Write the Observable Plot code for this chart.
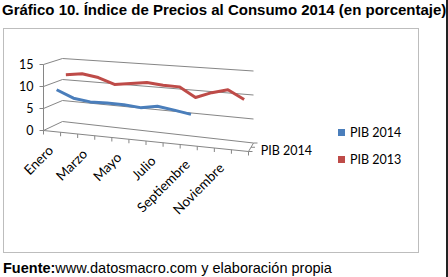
<!DOCTYPE html>
<html><head><meta charset="utf-8">
<script src="https://cdn.jsdelivr.net/npm/d3@7"></script>
<script src="https://cdn.jsdelivr.net/npm/@observablehq/plot@0.6"></script>
<style>
html,body{margin:0;padding:0;background:#fff}
body{width:448px;height:277px;overflow:hidden;position:relative;font-family:"Liberation Sans",Arial,sans-serif}
#title{position:absolute;left:2px;top:1px;font-weight:bold;font-size:15px;white-space:nowrap;color:#000}
#box{position:absolute;left:3px;top:28px;width:414px;height:223px;border:1px solid #bdbdbd}
#chart{position:absolute;left:0;top:28px}
#legend{position:absolute;left:338px;top:119px;font-family:Lato,sans-serif;font-size:12.5px;color:#000}
#legend div{height:27px;display:flex;align-items:center}
#legend span.sw{display:inline-block;width:7px;height:7px;margin-right:5px}
#note{position:absolute;left:3px;top:260px;font-size:14.5px;white-space:nowrap;color:#000}
#edge{position:absolute;left:446px;top:0;width:1.5px;height:277px;background:#222}
</style></head><body>
<div id="title">Gráfico 10. Índice de Precios al Consumo 2014 (en porcentaje)</div>
<div id="box"></div>
<div id="chart"></div>
<div id="legend"></div>
<div id="note"><b>Fuente:</b>www.datosmacro.com y elaboración propia</div>
<div id="edge"></div>
<script>
// Monthly consumer price index, percent
const months = ["Enero","Febrero","Marzo","Abril","Mayo","Junio","Julio","Agosto","Septiembre","Octubre","Noviembre","Diciembre"];
const pib2014 = [9.0, 7.4, 6.9, 7.0, 6.9, 6.6, 7.2, 6.7, 6.1];
const pib2013 = [11.7, 12.2, 11.6, 10.3, 10.8, 11.3, 11.0, 10.9, 8.9, 10.2, 11.1, 9.3];
const seriesNames = ["PIB 2014", "PIB 2013"];
const seriesColors = ["#4A7EBB", "#BE4B48"];
const yTicks = [0, 5, 10, 15];

// 3-D box of the plot: front and back planes (bottom-left, bottom-right corners, px per unit at left/right)
const front = {bl: [43, 102], br: [248, 123], u: [4.4, 4.9]};
const back  = {bl: [62, 93],  br: [253, 114.5], u: [4.2, 4.8]};
const depthOf = {"PIB 2014": 0.25, "PIB 2013": 0.75};

const lerp = (a, b, s) => a + (b - a) * s;
function proj(t, v, d) {
  const xF = lerp(front.bl[0], front.br[0], t), xB = lerp(back.bl[0], back.br[0], t);
  const yF = lerp(front.bl[1], front.br[1], t) - v * lerp(front.u[0], front.u[1], t);
  const yB = lerp(back.bl[1], back.br[1], t) - v * lerp(back.u[0], back.u[1], t);
  return [lerp(xF, xB, d), lerp(yF, yB, d)];
}
const n = months.length;
const tc = i => (i + 0.5) / n;

const rows = [];
[pib2014, pib2013].forEach((vals, s) => {
  vals.forEach((v, i) => {
    const [x, y] = proj(tc(i), v, depthOf[seriesNames[s]]);
    rows.push({serie: seriesNames[s], month: months[i], value: v, x, y});
  });
});

const grid = "#868686";
const boundaries = d3.range(n + 1);
const depthTicks = [0, 0.5, 1];

const chart = Plot.plot({
  width: 448, height: 225,
  margin: 0,
  style: {fontFamily: "Lato, sans-serif", fontSize: "12.5px", background: "transparent", overflow: "visible"},
  x: {type: "linear", domain: [0, 448], range: [0, 448], axis: null},
  y: {type: "linear", domain: [0, 225], range: [0, 225], axis: null},
  color: {domain: seriesNames, range: seriesColors},
  marks: [
    // back wall gridlines
    Plot.link(yTicks, {x1: v => proj(0, v, 1)[0], y1: v => proj(0, v, 1)[1], x2: v => proj(1, v, 1)[0], y2: v => proj(1, v, 1)[1], stroke: grid, strokeWidth: 1}),
    // side wall gridlines
    Plot.link(yTicks, {x1: v => proj(0, v, 0)[0], y1: v => proj(0, v, 0)[1], x2: v => proj(0, v, 1)[0], y2: v => proj(0, v, 1)[1], stroke: grid, strokeWidth: 1}),
    // value axis
    Plot.link([15], {x1: () => proj(0, 0, 0)[0], y1: () => proj(0, 0, 0)[1], x2: v => proj(0, v, 0)[0], y2: v => proj(0, v, 0)[1], stroke: grid}),
    Plot.link(yTicks, {x1: v => proj(0, v, 0)[0] - 4, y1: v => proj(0, v, 0)[1], x2: v => proj(0, v, 0)[0], y2: v => proj(0, v, 0)[1], stroke: grid}),
    Plot.text(yTicks, {x: v => proj(0, v, 0)[0], y: v => proj(0, v, 0)[1], text: d => String(d), textAnchor: "end", dx: -10, fill: "#000"}),
    // floor edges
    Plot.link([0], {x1: () => proj(0, 0, 0)[0], y1: () => proj(0, 0, 0)[1], x2: () => proj(1, 0, 0)[0], y2: () => proj(1, 0, 0)[1], stroke: grid}),
    Plot.link([0], {x1: () => proj(1, 0, 0)[0], y1: () => proj(1, 0, 0)[1], x2: () => proj(1, 0, 1)[0], y2: () => proj(1, 0, 1)[1], stroke: grid}),
    // category ticks
    Plot.link(boundaries, {x1: k => proj(k / n, 0, 0)[0], y1: k => proj(k / n, 0, 0)[1], x2: k => proj(k / n, 0, 0)[0], y2: k => proj(k / n, 0, 0)[1] + 4, stroke: grid}),
    // depth ticks
    Plot.link(depthTicks, {x1: d => proj(1, 0, d)[0], y1: d => proj(1, 0, d)[1], x2: d => proj(1, 0, d)[0] + 4, y2: d => proj(1, 0, d)[1], stroke: grid}),
    Plot.text(["PIB 2014"], {x: () => proj(1, 0, 0.25)[0], y: () => proj(1, 0, 0.25)[1], text: d => d, textAnchor: "start", dx: 11, dy: 2, fill: "#000"}),
    // category labels
    Plot.text(months.map((m, i) => ({m, i})).filter(d => d.i % 2 === 0), {
      x: d => proj(tc(d.i), 0, 0)[0], y: d => proj(tc(d.i), 0, 0)[1],
      text: "m", rotate: -45, textAnchor: "end", dx: -1, dy: 17, fill: "#000", fontSize: 13.5
    }),
    // series ribbons
    Plot.line(rows, {x: "x", y: "y", z: "serie", stroke: "serie", strokeWidth: 3, strokeLinejoin: "round", strokeLinecap: "butt"})
  ]
});
document.getElementById("chart").appendChild(chart);

const legend = document.getElementById("legend");
seriesNames.forEach((s, i) => {
  const row = document.createElement("div");
  row.innerHTML = `<span class="sw" style="background:${seriesColors[i]}"></span>${s}`;
  legend.appendChild(row);
});
</script>
</body></html>
